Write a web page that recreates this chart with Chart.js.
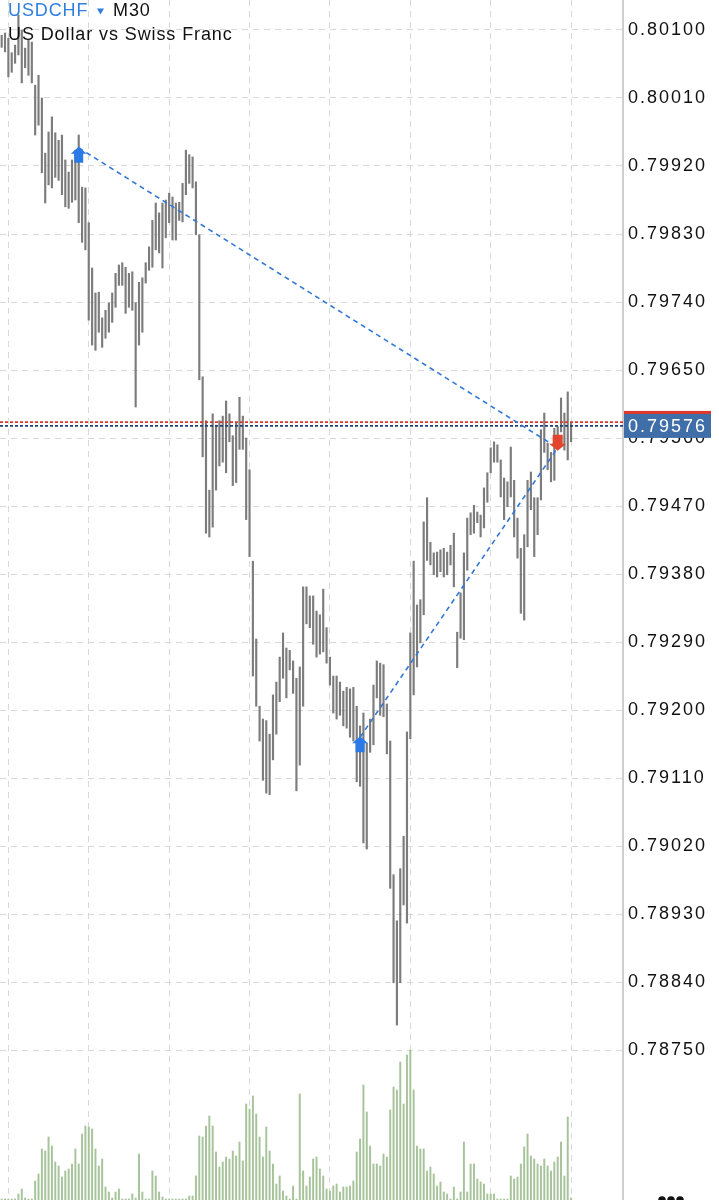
<!DOCTYPE html>
<html>
<head>
<meta charset="utf-8">
<script src="https://cdn.jsdelivr.net/npm/chart.js@4.4.1/dist/chart.umd.min.js"></script>
<style>
html, body { margin: 0; padding: 0; background: #fff; }
#wrap { position: relative; width: 719px; height: 1200px; }
</style>
</head>
<body>
<div id="wrap"><canvas id="myChart"></canvas></div>
<script>
// USDCHF M30 bars (high / low)
var barHigh = [
    0.80093, 0.80096, 0.80089, 0.80070, 0.80080, 0.80120, 0.80100, 0.80076, 0.80087, 0.80084,
    0.80027, 0.80040, 0.80010, 0.79937, 0.79965, 0.79985, 0.79964, 0.79954, 0.79961, 0.79928,
    0.79912, 0.79928, 0.79941, 0.79961, 0.79892, 0.79891, 0.79845, 0.79785, 0.79752, 0.79753,
    0.79719, 0.79729, 0.79739, 0.79752, 0.79778, 0.79789, 0.79792, 0.79786, 0.79778, 0.79780,
    0.79739, 0.79766, 0.79772, 0.79792, 0.79813, 0.79848, 0.79871, 0.79858, 0.79871, 0.79875,
    0.79884, 0.79879, 0.79871, 0.79872, 0.79897, 0.79941, 0.79935, 0.79932, 0.79899, 0.79829,
    0.79641, 0.79583, 0.79491, 0.79592, 0.79577, 0.79583, 0.79589, 0.79609, 0.79592, 0.79563,
    0.79580, 0.79614, 0.79589, 0.79560, 0.79518, 0.79397, 0.79294, 0.79205, 0.79188, 0.79186,
    0.79168, 0.79220, 0.79237, 0.79270, 0.79302, 0.79282, 0.79279, 0.79265, 0.79242, 0.79257,
    0.79363, 0.79363, 0.79351, 0.79351, 0.79331, 0.79326, 0.79360, 0.79309, 0.79270, 0.79245,
    0.79245, 0.79237, 0.79225, 0.79230, 0.79228, 0.79230, 0.79205, 0.79179, 0.79196, 0.79156,
    0.79188, 0.79233, 0.79265, 0.79262, 0.79260, 0.79208, 0.79159, 0.78982, 0.78921, 0.78990,
    0.79033, 0.79171, 0.79302, 0.79397, 0.79339, 0.79346, 0.79449, 0.79481, 0.79422, 0.79408,
    0.79409, 0.79412, 0.79414, 0.79409, 0.79418, 0.79434, 0.79303, 0.79355, 0.79408, 0.79454,
    0.79461, 0.79471, 0.79462, 0.79458, 0.79494, 0.79514, 0.79547, 0.79555, 0.79551, 0.79531,
    0.79507, 0.79502, 0.79548, 0.79504, 0.79454, 0.79414, 0.79432, 0.79504, 0.79515, 0.79481,
    0.79481, 0.79571, 0.79593, 0.79553, 0.79541, 0.79573, 0.79575, 0.79613, 0.79593, 0.79621,
    0.79580
];
var barLow = [
    0.80077, 0.80071, 0.80038, 0.80044, 0.80056, 0.80067, 0.80030, 0.80050, 0.80040, 0.80030,
    0.79961, 0.79974, 0.79911, 0.79871, 0.79895, 0.79891, 0.79905, 0.79901, 0.79882, 0.79866,
    0.79864, 0.79872, 0.79875, 0.79845, 0.79819, 0.79809, 0.79716, 0.79683, 0.79676, 0.79700,
    0.79680, 0.79692, 0.79700, 0.79713, 0.79733, 0.79762, 0.79762, 0.79725, 0.79733, 0.79729,
    0.79601, 0.79683, 0.79700, 0.79765, 0.79782, 0.79786, 0.79809, 0.79805, 0.79785, 0.79825,
    0.79845, 0.79822, 0.79822, 0.79848, 0.79846, 0.79882, 0.79897, 0.79891, 0.79829, 0.79637,
    0.79535, 0.79434, 0.79429, 0.79442, 0.79491, 0.79523, 0.79528, 0.79514, 0.79555, 0.79497,
    0.79501, 0.79545, 0.79545, 0.79452, 0.79403, 0.79245, 0.79205, 0.79159, 0.79107, 0.79090,
    0.79088, 0.79134, 0.79168, 0.79211, 0.79242, 0.79216, 0.79253, 0.79222, 0.79093, 0.79127,
    0.79205, 0.79314, 0.79309, 0.79287, 0.79270, 0.79274, 0.79277, 0.79262, 0.79233, 0.79196,
    0.79188, 0.79193, 0.79179, 0.79176, 0.79164, 0.79159, 0.79105, 0.79099, 0.79024, 0.79016,
    0.79144, 0.79154, 0.79216, 0.79193, 0.79191, 0.79142, 0.78964, 0.78839, 0.78783, 0.78839,
    0.78942, 0.78918, 0.79162, 0.79220, 0.79257, 0.79289, 0.79326, 0.79398, 0.79392, 0.79379,
    0.79376, 0.79383, 0.79376, 0.79379, 0.79392, 0.79363, 0.79256, 0.79295, 0.79293, 0.79385,
    0.79432, 0.79434, 0.79448, 0.79429, 0.79441, 0.79475, 0.79514, 0.79528, 0.79528, 0.79482,
    0.79452, 0.79469, 0.79482, 0.79429, 0.79401, 0.79328, 0.79319, 0.79416, 0.79465, 0.79403,
    0.79432, 0.79478, 0.79541, 0.79518, 0.79502, 0.79504, 0.79548, 0.79568, 0.79544, 0.79531,
    0.79555
];
// tick volume
var volume = [
    10, 10, 10, 10, 10, 60, 110, 20, 10, 10,
    190, 260, 510, 490, 630, 540, 380, 340, 230, 290,
    310, 360, 510, 360, 660, 740, 730, 710, 510, 340,
    410, 130, 80, 20, 80, 110, 10, 10, 10, 60,
    20, 460, 80, 10, 10, 290, 240, 80, 30, 10,
    10, 10, 10, 10, 10, 10, 40, 40, 240, 640,
    630, 740, 840, 740, 480, 330, 380, 430, 410, 490,
    440, 580, 390, 960, 910, 1040, 860, 630, 430, 730,
    490, 360, 160, 240, 90, 40, 10, 140, 10, 1060,
    290, 140, 230, 410, 430, 310, 240, 110, 90, 140,
    160, 80, 130, 130, 140, 190, 480, 610, 1150, 880,
    540, 360, 360, 340, 460, 430, 900, 1130, 1100, 1380,
    960, 1450, 1500, 1100, 540, 510, 510, 290, 330, 260,
    140, 180, 80, 60, 10, 130, 10, 80, 580, 80,
    360, 360, 210, 180, 160, 60, 60, 60, 10, 10,
    10, 10, 240, 210, 230, 360, 530, 660, 440, 410,
    360, 340, 410, 340, 290, 380, 430, 580, 240, 830,
    20
];
var priceTicks = [0.78750, 0.78840, 0.78930, 0.79020, 0.79110, 0.79200, 0.79290, 0.79380,
    0.79470, 0.79560, 0.79650, 0.79740, 0.79830, 0.79920, 0.80010, 0.80100];

var buyBars = [23, 107];
var buyPrices = [0.79944, 0.79164];
var closeBar = 166;
var closePrice = 0.79547;
var bidPrice = 0.79576;
var askPrice = 0.79581;

var slots = 186;
var labels = [];
for (var i = 0; i < slots; i++) labels.push(String(i + 1));

var ohlc = barHigh.map(function (h, i) { return [barLow[i], h]; });

function upArrow(c, x, y, color) {
    c.fillStyle = color;
    c.beginPath();
    c.moveTo(x, y);
    c.lineTo(x + 8, y + 7);
    c.lineTo(x + 4.5, y + 7);
    c.lineTo(x + 4.5, y + 16);
    c.lineTo(x - 4.5, y + 16);
    c.lineTo(x - 4.5, y + 7);
    c.lineTo(x - 8, y + 7);
    c.closePath();
    c.fill();
}
function downArrow(c, x, y, color) {
    c.fillStyle = color;
    c.beginPath();
    c.moveTo(x, y);
    c.lineTo(x + 8.5, y - 7);
    c.lineTo(x + 5, y - 7);
    c.lineTo(x + 5, y - 16);
    c.lineTo(x - 5, y - 16);
    c.lineTo(x - 5, y - 7);
    c.lineTo(x - 8.5, y - 7);
    c.closePath();
    c.fill();
}

var overlay = {
    id: 'overlay',
    beforeDraw: function (chart) {
        var c = chart.ctx;
        c.save();
        c.fillStyle = '#ffffff';
        c.fillRect(0, 0, chart.width, chart.height);
        c.restore();
        c.letterSpacing = '2px';
    },
    afterDatasetsDraw: function (chart) {
        var c = chart.ctx, xs = chart.scales.x, ys = chart.scales.y, a = chart.chartArea;
        c.save();
        c.letterSpacing = '0px';
        // ask / bid lines
        c.lineWidth = 1.6;
        c.setLineDash([3, 2]);
        c.strokeStyle = '#d8392c';
        c.beginPath();
        c.moveTo(a.left, ys.getPixelForValue(askPrice));
        c.lineTo(a.right, ys.getPixelForValue(askPrice));
        c.stroke();
        c.strokeStyle = '#23407a';
        c.beginPath();
        c.moveTo(a.left, ys.getPixelForValue(bidPrice));
        c.lineTo(a.right, ys.getPixelForValue(bidPrice));
        c.stroke();
        // trade lines
        c.lineWidth = 1.6;
        c.setLineDash([5, 4]);
        c.strokeStyle = '#3277da';
        var cx = xs.getPixelForValue(closeBar), cy = ys.getPixelForValue(closePrice);
        buyBars.forEach(function (b, k) {
            c.beginPath();
            c.moveTo(xs.getPixelForValue(b), ys.getPixelForValue(buyPrices[k]));
            c.lineTo(cx, cy);
            c.stroke();
        });
        c.setLineDash([]);
        buyBars.forEach(function (b, k) {
            upArrow(c, xs.getPixelForValue(b), ys.getPixelForValue(buyPrices[k]) - 1, '#2a7be8');
        });
        downArrow(c, cx, cy + 3, '#e2442e');
        c.restore();
    },
    afterDraw: function (chart) {
        var c = chart.ctx, ys = chart.scales.y, a = chart.chartArea;
        c.save();
        // current price tag
        var by = ys.getPixelForValue(bidPrice);
        c.fillStyle = '#e0392b';
        c.fillRect(a.right + 1, by - 15, 711 - a.right - 1, 4);
        c.fillStyle = '#3f6ea8';
        c.fillRect(a.right + 1, by - 12, 711 - a.right - 1, 24);
        c.letterSpacing = '2px';
        c.fillStyle = '#ffffff';
        c.font = '18px "Liberation Sans", Arial, sans-serif';
        c.textBaseline = 'middle';
        c.textAlign = 'left';
        c.fillText(bidPrice.toFixed(5), a.right + 5, by + 1);
        // title
        c.letterSpacing = '0.9px';
        c.textBaseline = 'alphabetic';
        c.fillStyle = '#2f7fe2';
        c.fillText('USDCHF', 8, 16);
        c.beginPath();
        c.moveTo(97, 8.5);
        c.lineTo(104, 8.5);
        c.lineTo(100.5, 14.5);
        c.closePath();
        c.fill();
        c.fillStyle = '#111111';
        c.fillText('M30', 113, 16);
        c.fillText('US Dollar vs Swiss Franc', 8, 40);
        // menu dots
        [662, 671, 680].forEach(function (x) {
            c.beginPath();
            c.arc(x, 1200, 3.8, 0, Math.PI * 2);
            c.fill();
        });
        c.restore();
    }
};

var ctx = document.getElementById('myChart');
var gridColor = '#d8d8d8';

new Chart(ctx, {
    type: 'bar',
    data: {
        labels: labels,
        datasets: [{
            label: 'USDCHF',
            data: ohlc,
            yAxisID: 'y',
            backgroundColor: '#7c7c7c',
            barThickness: 1.5,
            borderWidth: 0,
            grouped: false
        }, {
            label: 'Volume',
            data: volume,
            yAxisID: 'v',
            backgroundColor: '#a6c39a',
            barThickness: 1.3,
            borderWidth: 0,
            grouped: false
        }]
    },
    options: {
        responsive: true,
        maintainAspectRatio: false,
        animation: false,
        layout: { padding: 0 },
        scales: {
            x: {
                offset: true,
                grid: { color: gridColor, offset: false, drawTicks: false },
                border: { display: false, dash: [6, 5] },
                ticks: { display: false, autoSkip: false },
                afterBuildTicks: function (scale) {
                    scale.ticks = scale.ticks.filter(function (t) { return t.value % 24 === 2; });
                }
            },
            y: {
                position: 'right',
                min: 0.785515,
                max: 0.801397,
                grid: { color: gridColor, drawTicks: false },
                border: { display: true, color: '#cfcfcf', width: 2, dash: [6, 5] },
                ticks: {
                    color: '#111111',
                    padding: 5,
                    font: { family: '"Liberation Sans", Arial, sans-serif', size: 18 },
                    callback: function (v) { return Number(v).toFixed(5); }
                },
                afterBuildTicks: function (scale) {
                    scale.ticks = priceTicks.map(function (v) { return { value: v }; });
                },
                afterFit: function (scale) {
                    scale.width = 96;
                    scale.paddingTop = 0;
                    scale.paddingBottom = 0;
                }
            },
            v: {
                display: false,
                min: 0,
                max: 12000
            }
        },
        plugins: {
            legend: { display: false },
            tooltip: { enabled: false }
        }
    },
    plugins: [overlay]
});
</script>
</body>
</html>
